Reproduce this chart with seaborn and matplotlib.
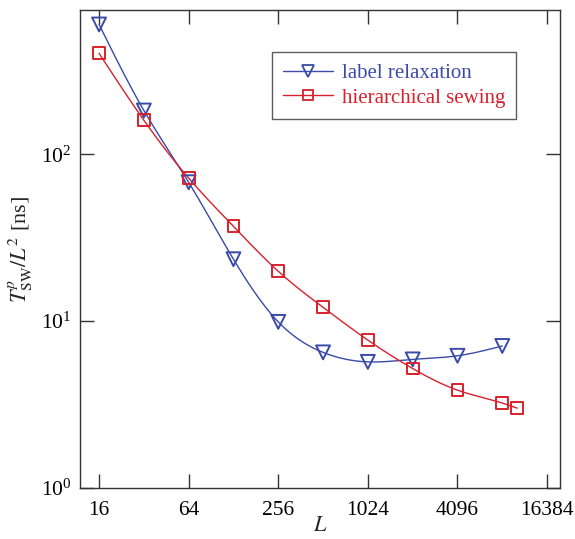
import numpy as np
import pandas as pd
import matplotlib
matplotlib.use("Agg")
import matplotlib.pyplot as plt
import seaborn as sns
from matplotlib.lines import Line2D
from matplotlib.ticker import FixedLocator, FixedFormatter, LogLocator, NullLocator

# ---- data ----
L_relax = [16, 32, 64, 128, 256, 512, 1024, 2048, 4096, 8192]
T_relax = [600, 183, 68, 23.5, 9.9, 6.5, 5.7, 5.9, 6.2, 7.1]
L_sew = [16, 32, 64, 128, 256, 512, 1024, 2048, 4096, 8192, 10320]
T_sew = [403, 160, 72, 37, 19.9, 12.1, 7.7, 5.2, 3.86, 3.23, 3.01]
x_ticks = [16, 64, 256, 1024, 4096, 16384]
x_ticklabels = ["16", "64", "256", "1024", "4096", "16384"]
series_names = ["label relaxation", "hierarchical sewing"]

sns.set_style("ticks")
plt.rcParams['font.family'] = ['Liberation Serif', 'DejaVu Serif']
plt.rcParams['mathtext.fontset'] = 'stix'

BLUE = "#3a4aa8"
RED = "#d8212c"


def smooth(x, y, n=300):
    """Natural cubic spline through the points in log-log space (for line rendering)."""
    lx = np.log(np.asarray(x, float))
    ly = np.log(np.asarray(y, float))
    k = len(lx)
    h = np.diff(lx)
    A = np.zeros((k, k))
    b = np.zeros(k)
    A[0, 0] = A[-1, -1] = 1
    for i in range(1, k - 1):
        A[i, i - 1] = h[i - 1]
        A[i, i] = 2 * (h[i - 1] + h[i])
        A[i, i + 1] = h[i]
        b[i] = 3 * ((ly[i + 1] - ly[i]) / h[i] - (ly[i] - ly[i - 1]) / h[i - 1])
    c = np.linalg.solve(A, b)
    xs = np.linspace(lx[0], lx[-1], n)
    idx = np.clip(np.searchsorted(lx, xs) - 1, 0, k - 2)
    dx = xs - lx[idx]
    bb = (ly[1:] - ly[:-1]) / h - h * (2 * c[:-1] + c[1:]) / 3
    d = (c[1:] - c[:-1]) / (3 * h)
    ys = ly[idx] + bb[idx] * dx + c[idx] * dx ** 2 + d[idx] * dx ** 3
    return np.exp(xs), np.exp(ys)


fig = plt.figure(figsize=(5.75, 5.39), dpi=100)
ax = fig.add_axes([0.139, 0.0946, 0.835, 0.886])

for name, Lx, Ty, col, mk, ms in [
    (series_names[0], L_relax, T_relax, BLUE, "v", 10),
    (series_names[1], L_sew, T_sew, RED, "s", 8.5),
]:
    sx, sy = smooth(Lx, Ty)
    sns.lineplot(x=sx, y=sy, ax=ax, color=col, lw=1.0, sort=False, estimator=None)
    sns.scatterplot(x=Lx, y=Ty, ax=ax, marker=mk, s=ms ** 2, facecolor="none",
                    edgecolor=col, linewidth=1.4, zorder=3)

ax.set_xscale("log", base=2)
ax.set_yscale("log")
ax.set_xlim(11.9, 20030)
ax.set_ylim(1, 728)
ax.xaxis.set_major_locator(FixedLocator(x_ticks))
ax.xaxis.set_major_formatter(FixedFormatter(x_ticklabels))
ax.xaxis.set_minor_locator(NullLocator())
ax.yaxis.set_major_locator(LogLocator(base=10))
ax.yaxis.set_minor_locator(NullLocator())

ax.tick_params(which="major", direction="in", length=10, width=1.0,
               top=True, right=True, labelsize=15.5, colors="#333333", labelcolor="black", pad=6)
ax.tick_params(axis="x", pad=9)
for s in ax.spines.values():
    s.set_linewidth(1.0)
    s.set_color("#333333")

ax.set_xlabel(r"$L$", fontsize=16, labelpad=-2)
ax.set_ylabel(r"$T^{p}_{\mathrm{SW}}/L^2$ [ns]", fontsize=16, labelpad=4)

handles = [
    Line2D([], [], color=BLUE, lw=1.0, marker="v", ms=9, mfc="none", mec=BLUE, mew=1.3),
    Line2D([], [], color=RED, lw=1.0, marker="s", ms=7, mfc="none", mec=RED, mew=1.3),
]
leg = ax.legend(handles, series_names, loc="upper left", bbox_to_anchor=(0.378, 0.935),
                fontsize=15, frameon=True, fancybox=False, edgecolor="#333333",
                handlelength=2.4, borderpad=0.55, labelspacing=0.25, handletextpad=0.4)
leg.get_frame().set_linewidth(1.0)
for t, c in zip(leg.get_texts(), [BLUE, RED]):
    t.set_color(c)

fig.savefig("out.png", dpi=100)
